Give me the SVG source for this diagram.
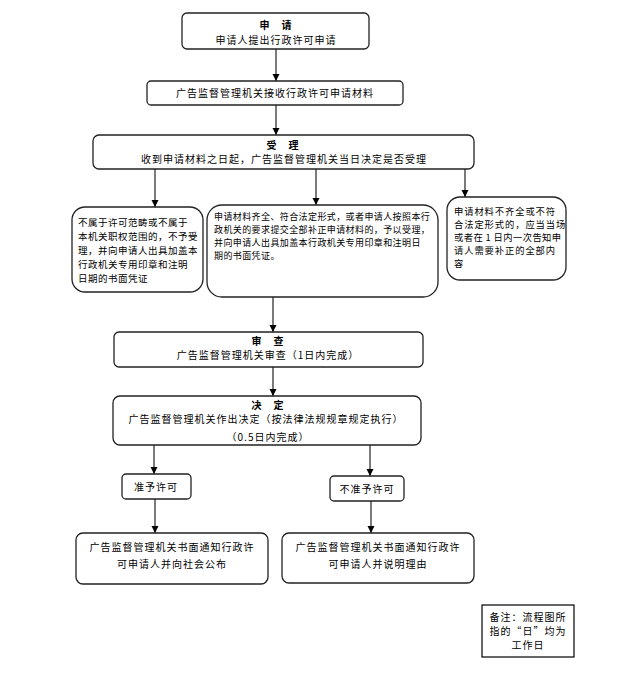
<svg xmlns="http://www.w3.org/2000/svg" width="635" height="695" viewBox="0 0 635 695">
<style>
.b{fill:#fff;stroke:#222;stroke-width:1.3}
.t{font-family:"Noto Sans CJK SC","Liberation Sans",sans-serif;font-size:10px;fill:#000;letter-spacing:1px}
.s{font-size:9px;letter-spacing:0.4px}
.m{font-size:9.5px;letter-spacing:0.5px}
.r{font-size:9.3px;letter-spacing:0.9px}
.h{font-weight:bold}
.c{text-anchor:middle}
.l{fill:none;stroke:#222;stroke-width:1.2;marker-end:url(#a)}
</style>
<defs>
<marker id="a" markerWidth="8" markerHeight="8" refX="7" refY="4" orient="auto" markerUnits="userSpaceOnUse">
<path d="M0,0.5 L7,4 L0,7.5 Z" fill="#000"/>
</marker>
</defs>
<rect width="635" height="695" fill="#fff"/>
<g id="connectors">
<line class="l" x1="276" y1="49" x2="276" y2="81"/>
<line class="l" x1="276" y1="105" x2="276" y2="135"/>
<line class="l" x1="155" y1="169" x2="155" y2="207"/>
<line class="l" x1="316" y1="169" x2="316" y2="205"/>
<line class="l" x1="465" y1="169" x2="465" y2="197"/>
<line class="l" x1="273" y1="297" x2="273" y2="332"/>
<line class="l" x1="273" y1="367" x2="273" y2="396"/>
<line class="l" x1="154" y1="445" x2="154" y2="474"/>
<line class="l" x1="370" y1="445" x2="370" y2="476"/>
<line class="l" x1="155" y1="499" x2="155" y2="533"/>
<line class="l" x1="371" y1="501" x2="371" y2="533"/>
</g>
<g id="n1">
<rect class="b" x="182" y="13" width="187" height="36" rx="5"/>
<text class="t h c" x="276" y="29">申　请</text>
<text class="t c" x="276" y="44">申请人提出行政许可申请</text>
</g>
<g id="n2">
<rect class="b" x="147" y="81" width="256" height="24" rx="4"/>
<text class="t c" x="275" y="97">广告监督管理机关接收行政许可申请材料</text>
</g>
<g id="n3">
<rect class="b" x="93" y="135" width="381" height="34" rx="6"/>
<text class="t h c" x="283" y="149">受　理</text>
<text class="t c" x="284" y="163">收到申请材料之日起，广告监督管理机关当日决定是否受理</text>
</g>
<g id="n4">
<rect class="b" x="72" y="207" width="131" height="85" rx="13"/>
<text class="t m" x="78" y="226">不属于许可范畴或不属于</text>
<text class="t m" x="78" y="240">本机关职权范围的，不予受</text>
<text class="t m" x="78" y="254">理，并向申请人出具加盖本</text>
<text class="t m" x="78" y="268">行政机关专用印章和注明</text>
<text class="t m" x="78" y="282">日期的书面凭证</text>
</g>
<g id="n5">
<rect class="b" x="207" y="205" width="231" height="92" rx="15"/>
<text class="t s" x="214" y="220">申请材料齐全、符合法定形式，或者申请人按照本行</text>
<text class="t s" x="214" y="233">政机关的要求提交全部补正申请材料的，予以受理，</text>
<text class="t s" x="214" y="246">并向申请人出具加盖本行政机关专用印章和注明日</text>
<text class="t s" x="214" y="259">期的书面凭证。</text>
</g>
<g id="n6">
<rect class="b" x="447" y="197" width="119" height="83" rx="13"/>
<text class="t r" x="454" y="215">申请材料不齐全或不符</text>
<text class="t r" x="454" y="228">合法定形式的，应当当场</text>
<text class="t r" x="454" y="241" style="letter-spacing:0.4px">或者在 1 日内一次告知申</text>
<text class="t r" x="454" y="254">请人需要补正的全部内</text>
<text class="t r" x="454" y="267">容</text>
</g>
<g id="n7">
<rect class="b" x="114" y="332" width="309" height="35" rx="5"/>
<text class="t h c" x="268" y="345">审　查</text>
<text class="t c" x="268" y="359">广告监督管理机关审查（1日内完成）</text>
</g>
<g id="n8">
<rect class="b" x="113" y="396" width="308" height="49" rx="7"/>
<text class="t h c" x="268" y="409">决　定</text>
<text class="t c" x="266" y="423">广告监督管理机关作出决定（按法律法规规章规定执行）</text>
<text class="t c" x="268" y="441">（0.5日内完成）</text>
</g>
<g id="n9">
<rect class="b" x="122" y="474" width="69" height="25" rx="4"/>
<text class="t c" x="156" y="491">准予许可</text>
</g>
<g id="n10">
<rect class="b" x="330" y="476" width="74" height="25" rx="4"/>
<text class="t c" x="367" y="493">不准予许可</text>
</g>
<g id="n11">
<rect class="b" x="76" y="533" width="192" height="51" rx="7"/>
<text class="t c" x="172" y="551">广告监督管理机关书面通知行政许</text>
<text class="t c" x="172" y="568">可申请人并向社会公布</text>
</g>
<g id="n12">
<rect class="b" x="282" y="533" width="192" height="50" rx="7"/>
<text class="t c" x="378" y="551">广告监督管理机关书面通知行政许</text>
<text class="t c" x="378" y="568">可申请人并说明理由</text>
</g>
<g id="note">
<rect x="482" y="605" width="92" height="52" fill="#fff" stroke="#000" stroke-width="1.2"/>
<text class="t c" x="528" y="621">备注：流程图所</text>
<text class="t c" x="528" y="635">指的“日”均为</text>
<text class="t c" x="528" y="649">工作日</text>
</g>
</svg>
